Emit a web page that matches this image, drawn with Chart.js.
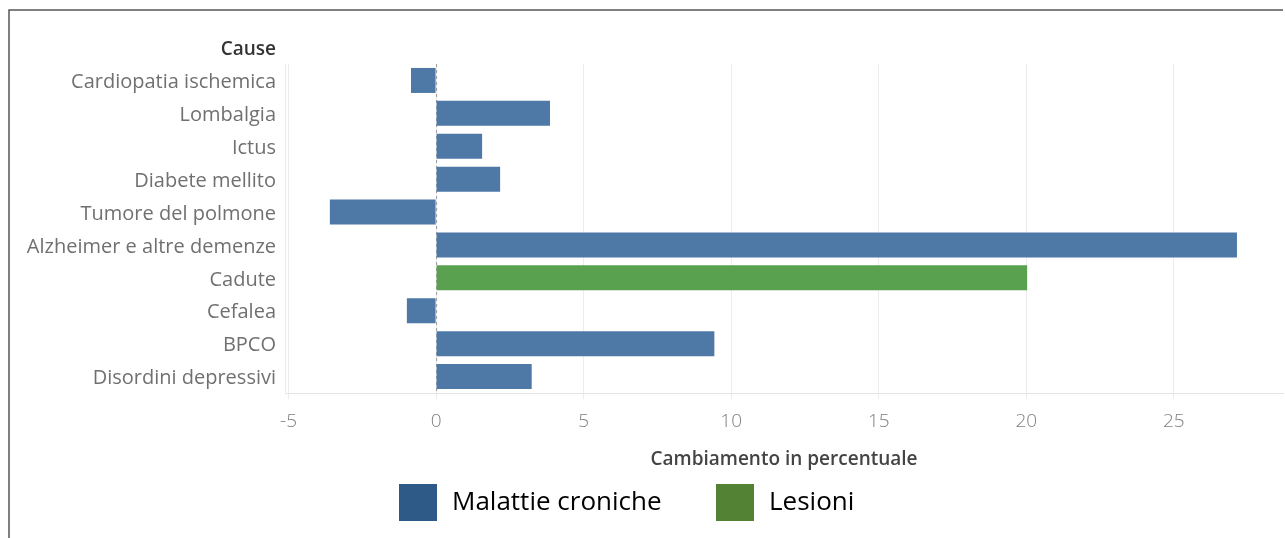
<!DOCTYPE html>
<html>
<head>
<meta charset="utf-8">
<script src="https://cdn.jsdelivr.net/npm/chart.js@4.4.0/dist/chart.umd.min.js"></script>
<style>
  html, body { margin: 0; padding: 0; background: #fff; }
  #wrap { width: 1285px; height: 538px; }
</style>
</head>
<body>
<div id="wrap"><canvas id="myChart" width="1285" height="538"></canvas></div>
<script>
const cause = ['Cardiopatia ischemica', 'Lombalgia', 'Ictus', 'Diabete mellito', 'Tumore del polmone',
    'Alzheimer e altre demenze', 'Cadute', 'Cefalea', 'BPCO', 'Disordini depressivi']
const malattieCroniche = [-0.85, 3.86, 1.56, 2.17, -3.6, 27.14, null, -0.99, 9.43, 3.24]
const lesioni = [null, null, null, null, null, null, 20.03, null, null, null]
const xTicks = [-5, 0, 5, 10, 15, 20, 25]
const serie = ['Malattie croniche', 'Lesioni']

const barColors = ['#4e79a7', '#59a14f']
const legendColors = ['#2d5a87', '#548235']
const FONT = '"Open Sans", sans-serif'

// cornice, titolo "Cause", linea dello zero, titolo asse e legenda
const extras = {
    id: 'extras',
    beforeDatasetsDraw(chart) {
        const ctx = chart.ctx
        const x = chart.scales.x
        const a = chart.chartArea
        const x0 = x.getPixelForValue(0)
        ctx.save()
        ctx.strokeStyle = '#9a9a9a'
        ctx.lineWidth = 1
        ctx.setLineDash([3, 3])
        ctx.beginPath()
        ctx.moveTo(x0 + 0.5, a.top)
        ctx.lineTo(x0 + 0.5, a.bottom)
        ctx.stroke()
        ctx.restore()
    },
    afterDraw(chart) {
        const ctx = chart.ctx
        const a = chart.chartArea
        ctx.save()
        ctx.strokeStyle = '#555'
        ctx.lineWidth = 1.5
        ctx.beginPath()
        ctx.moveTo(9, 538)
        ctx.lineTo(9, 10)
        ctx.lineTo(1283, 10)
        ctx.stroke()

        ctx.fillStyle = '#333'
        ctx.font = '600 19px ' + FONT
        ctx.textAlign = 'right'
        ctx.textBaseline = 'middle'
        ctx.fillText('Cause', 276, 50)

        ctx.fillStyle = '#444'
        ctx.textAlign = 'center'
        ctx.fillText('Cambiamento in percentuale', (a.left + a.right) / 2, 460)

        // legenda
        ctx.font = '26px ' + FONT
        ctx.textAlign = 'left'
        ctx.fillStyle = legendColors[0]
        ctx.fillRect(399, 484, 38, 37)
        ctx.fillStyle = '#000'
        ctx.fillText(serie[0], 452, 503)
        ctx.fillStyle = legendColors[1]
        ctx.fillRect(716, 484, 38, 37)
        ctx.fillStyle = '#000'
        ctx.fillText(serie[1], 769, 503)
        ctx.restore()
    }
}

const ctx = document.getElementById('myChart')
const myChart = new Chart(ctx, {
    type: 'bar',
    data: {
        labels: cause,
        datasets: [{
            label: serie[0],
            data: malattieCroniche,
            backgroundColor: barColors[0],
            grouped: false
        }, {
            label: serie[1],
            data: lesioni,
            backgroundColor: barColors[1],
            grouped: false
        }]
    },
    options: {
        indexAxis: 'y',
        responsive: false,
        animation: false,
        barPercentage: 0.76,
        categoryPercentage: 1,
        layout: { padding: { left: 10, top: 64, right: 2, bottom: 0 } },
        plugins: {
            legend: { display: false },
            tooltip: { enabled: false }
        },
        scales: {
            x: {
                min: -5.12,
                max: 28.7,
                afterBuildTicks: (scale) => { scale.ticks = xTicks.map(v => ({ value: v })) },
                afterFit: (scale) => { scale.height = 145 },
                grid: { color: '#ececec', tickLength: 6, drawTicks: true, tickColor: '#ececec' },
                border: { color: '#e4e4e4' },
                ticks: { color: '#808080', font: { family: FONT, size: 19, weight: 300 }, padding: 11 }
            },
            y: {
                afterFit: (scale) => { scale.width = 275 },
                grid: { display: false, drawTicks: false },
                border: { color: '#ececec' },
                ticks: { color: '#707070', font: { family: FONT, size: 20 }, padding: 9, labelOffset: 2 }
            }
        }
    },
    plugins: [extras]
})
</script>
</body>
</html>
